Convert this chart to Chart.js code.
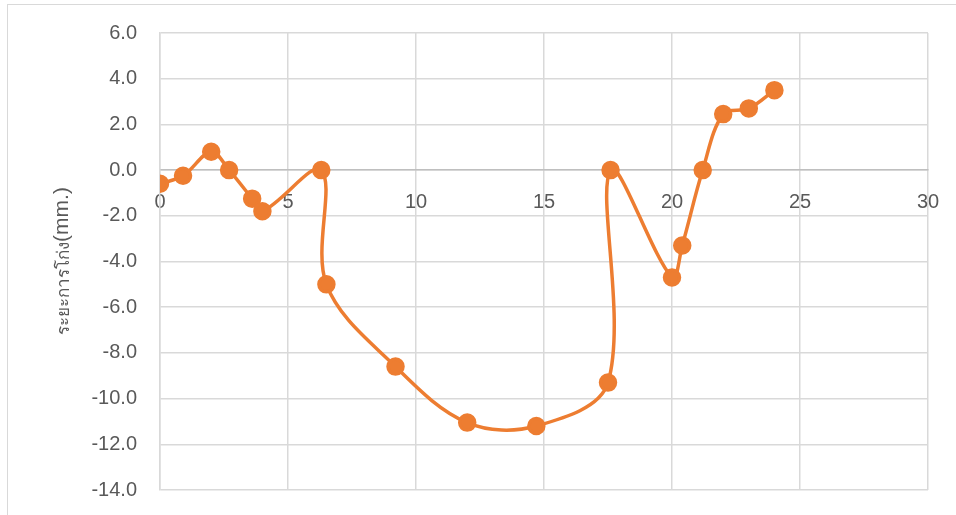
<!DOCTYPE html>
<html>
<head>
<meta charset="utf-8">
<script src="https://cdn.jsdelivr.net/npm/chart.js@4.4.1/dist/chart.umd.min.js"></script>
<style>
	html, body { margin: 0; padding: 0; background: #fff; }
	#wrap { position: relative; width: 956px; height: 515px; overflow: hidden; }
	#frame { position: absolute; left: 7px; top: 4px; width: 1000px; height: 600px; border: 1.5px solid #d9d9d9; box-sizing: border-box; }
	#deflection-line { position: absolute; left: 0; top: 0; }
</style>
</head>
<body>
<div id="wrap">
	<div id="frame"></div>
	<canvas id="deflection-line" width="956" height="515"></canvas>
</div>
<script>
//
// Deflection line chart
//

var xValues = [0, 0.9, 2.0, 2.7, 3.6, 4.0, 6.3, 6.5, 9.2, 12.0, 14.7, 17.5, 17.6, 20.0, 20.4, 21.2, 22.0, 23.0, 24.0];
var yValues = [-0.6, -0.25, 0.8, 0.0, -1.25, -1.8, 0.0, -5.0, -8.6, -11.05, -11.2, -9.3, 0.0, -4.7, -3.3, 0.0, 2.45, 2.7, 3.5];

var yTitleThai = 'ระยะการโก่ง';
var yTitleUnit = '(mm.)';

var DeflectionChart = (function() {

	var $chart = document.getElementById('deflection-line');

	// Y axis title with two font sizes
	var yTitlePlugin = {
		id: 'yTitle',
		afterDraw: function(chart) {
			var ctx = chart.ctx;
			ctx.save();
			ctx.translate(62, 261);
			ctx.rotate(-Math.PI / 2);
			ctx.fillStyle = '#595959';
			ctx.textBaseline = 'middle';
			ctx.font = '17px "Liberation Sans", "Noto Sans", sans-serif';
			var w1 = ctx.measureText(yTitleThai).width;
			ctx.font = '21px "Liberation Sans", "Noto Sans", sans-serif';
			var w2 = ctx.measureText(yTitleUnit).width;
			var start = -(w1 + w2) / 2;
			ctx.textAlign = 'left';
			ctx.font = '17px "Liberation Sans", "Noto Sans", sans-serif';
			ctx.fillText(yTitleThai, start, 2);
			ctx.font = '21px "Liberation Sans", "Noto Sans", sans-serif';
			ctx.fillText(yTitleUnit, start + w1, 0);
			ctx.restore();
		}
	};

	function initChart($chart) {

		var points = xValues.map(function(x, i) { return { x: x, y: yValues[i] }; });

		var lineChart = new Chart($chart, {
			type: 'scatter',
			data: {
				datasets: [{
					data: points,
					showLine: true,
					borderColor: '#ED7D31',
					backgroundColor: '#ED7D31',
					borderWidth: 3.5,
					pointRadius: 7.5,
					pointHoverRadius: 7.5,
					tension: 0.35
				}]
			},
			options: {
				responsive: false,
				animation: false,
				layout: { padding: { left: 0, top: 33, right: 28, bottom: 25 } },
				plugins: { legend: { display: false }, tooltip: { enabled: false } },
				scales: {
					x: {
						type: 'linear',
						min: 0, max: 30,
						position: { y: 0 },
						ticks: { stepSize: 5, padding: 0, color: '#595959', font: { family: '"Liberation Sans", sans-serif', size: 20 } },
						grid: { color: '#d9d9d9', lineWidth: 1.5, drawTicks: true, tickLength: 20, tickColor: 'rgba(0,0,0,0)' },
						border: { color: '#bfbfbf', width: 1.5 }
					},
					y: {
						min: -14, max: 6,
						afterFit: function(scale) { scale.width = 160; },
						ticks: {
							stepSize: 2, padding: 0, color: '#595959',
							font: { family: '"Liberation Sans", sans-serif', size: 20 },
							callback: function(v) { return v.toFixed(1); }
						},
						grid: { color: '#d9d9d9', lineWidth: 1.5, drawTicks: true, tickLength: 23, tickColor: 'rgba(0,0,0,0)' },
						border: { color: '#d9d9d9', width: 1.5 }
					}
				}
			},
			plugins: [yTitlePlugin]
		});

		$chart.chartInstance = lineChart;
	}

	if ($chart) {
		initChart($chart);
	}

})();
</script>
</body>
</html>
